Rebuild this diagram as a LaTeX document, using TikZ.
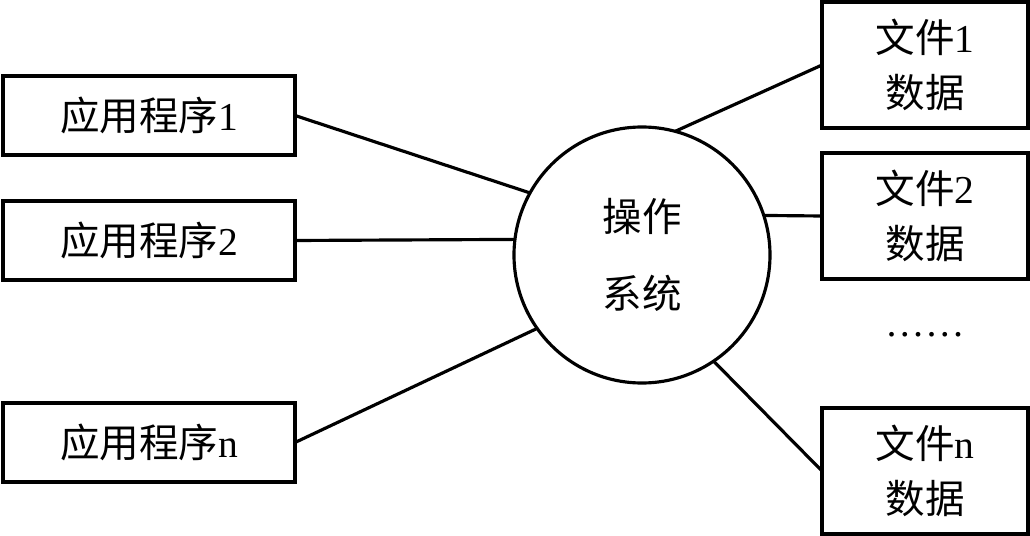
\documentclass[tikz,border=0pt]{standalone}
\usepackage{fontspec}
\setmainfont{Liberation Serif}
\newfontfamily\cjk{Noto Sans CJK SC}
\usepackage{tikz}
\usetikzlibrary{positioning}
\tikzset{
    app_style/.style={
        rectangle,            % 矩形框
        draw=black,           % 边框颜色
        line width=1.8pt,     % 边框加粗
        fill=white,           % 填充颜色
        minimum width=5.84cm,
        minimum height=1.58cm,
        inner sep=0pt,
        outer sep=0pt,
        font=\fontsize{22.5}{31}\selectfont
    },
    file_style/.style={
        app_style,
        minimum width=4.12cm,
        minimum height=2.52cm,
        align=center
    },
    os_style/.style={
        circle,               % 圆形
        draw=black,
        line width=1.8pt,
        fill=white,
        minimum size=5.12cm,
        inner sep=0pt,
        outer sep=0pt,
        align=center,
        font=\fontsize{22.5}{44}\selectfont
    },
    line_style/.style={
        line width=1.8pt      % 连线加粗
    }
}

\begin{document}
\begin{tikzpicture}
            \useasboundingbox (0,0) rectangle (20.6,10.7);
            % 1. 左侧应用程序
            \node[app_style] (A1) at (2.98,8.39) {{\cjk 应用程序}1};
            \node[app_style, below=0.92cm of A1] (A2) {{\cjk 应用程序}2};
            \node[app_style, below=2.46cm of A2] (An) {{\cjk 应用程序}n};

            % 2. 中间操作系统
            \node[os_style] (OS) at (12.84,5.6) {{\cjk 操作}\\{\cjk 系统}};

            % 3. 右侧文件数据
            \node[file_style] (F1) at (18.5,9.4) {{\cjk 文件}1\\{\cjk 数据}};
            \node[file_style, below=0.5cm of F1] (F2) {{\cjk 文件}2\\{\cjk 数据}};
            \node[file_style, below=2.58cm of F2] (Fn) {{\cjk 文件}n\\{\cjk 数据}};
            \node[font=\fontsize{22.5}{31}\selectfont] (dots) at (18.5,4.0) {……};

            % 4. 连线
            \draw[line_style] (A1.east) -- (OS.151.5);
            \draw[line_style] (A2.east) -- (OS.173);
            \draw[line_style] (An.east) -- (OS.215.5);
            \draw[line_style] (OS.75) -- (F1.west);
            \draw[line_style] (OS.18.6) -- (F2.west);
            \draw[line_style] (OS.-56) -- (Fn.west);
        \end{tikzpicture}
\end{document}
